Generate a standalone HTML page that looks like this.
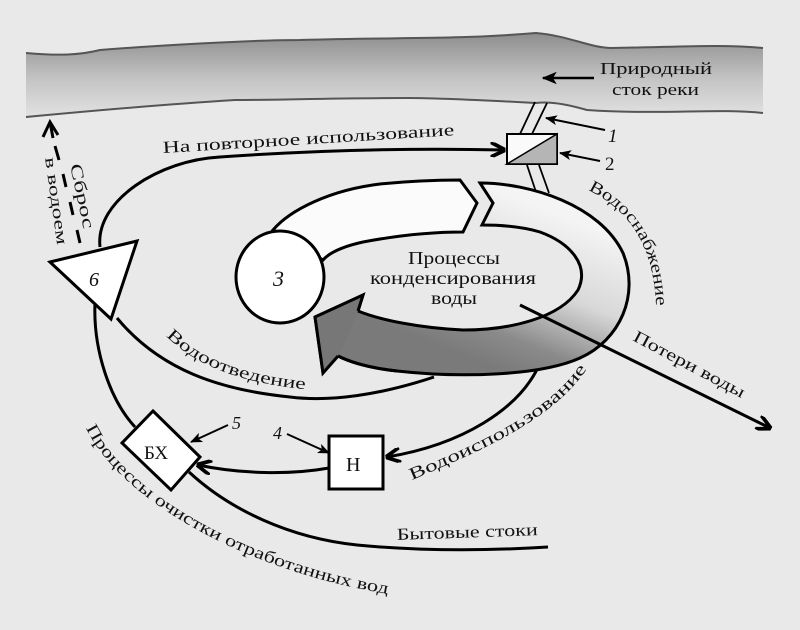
<!DOCTYPE html>
<html><head><meta charset="utf-8"><style>
html,body{margin:0;padding:0;background:#e9e9e9}
svg{display:block}
text{font-family:"Liberation Serif",serif;fill:#111}
</style></head><body>
<svg width="800" height="630" viewBox="0 0 800 630" xmlns="http://www.w3.org/2000/svg">
<defs>
<linearGradient id="riv" x1="0" y1="0" x2="0" y2="1">
<stop offset="0" stop-color="#8d8d8d"/><stop offset="0.55" stop-color="#c4c4c4"/><stop offset="1" stop-color="#e2e2e2"/>
</linearGradient>
<linearGradient id="band" x1="560" y1="215" x2="500" y2="370" gradientUnits="userSpaceOnUse">
<stop offset="0" stop-color="#f4f4f4"/><stop offset="0.45" stop-color="#d8d8d8"/><stop offset="0.8" stop-color="#8a8a8a"/><stop offset="1" stop-color="#7a7a7a"/>
</linearGradient>
<marker id="ah" viewBox="0 0 10 10" refX="9" refY="5" markerWidth="5" markerHeight="5" orient="auto"><path d="M0,0 L10,5 L0,10" fill="none" stroke="#000" stroke-width="2.5"/></marker>
<marker id="fa" viewBox="0 0 12 10" refX="11" refY="5" markerWidth="6" markerHeight="5" orient="auto"><path d="M0,0 L12,5 L0,10 L3,5 z" fill="#000"/></marker>
<path id="p_snab" d="M588,190 C630,210 660,250 656,330"/>
<path id="p_isp" d="M412,480 C470,455 560,420 592,360"/>
<path id="p_otv" d="M166,336 C200,370 250,384 312,390"/>
<path id="p_och" d="M86,428 C120,500 250,575 402,596"/>
</defs>
<rect width="800" height="630" fill="#e9e9e9"/>
<!-- river -->
<path d="M26,53 C60,56 80,55 100,50 C150,46 250,40 300,40 C400,37 450,40 536,33 C570,36 590,48 612,48 C680,47 720,44 763,48 L763,113 C720,108 660,115 587,110 C570,105 550,101 536,103 C480,100 430,98 408,98 C330,98 280,100 235,100 C170,104 100,110 26,117 Z" fill="url(#riv)"/>
<path d="M26,53 C60,56 80,55 100,50 C150,46 250,40 300,40 C400,37 450,40 536,33 C570,36 590,48 612,48 C680,47 720,44 763,48" fill="none" stroke="#555" stroke-width="2"/>
<path d="M26,117 C100,110 170,104 235,100 C280,100 330,98 408,98 C430,98 480,100 536,103 C550,101 570,105 587,110 C660,115 720,108 763,113" fill="none" stroke="#555" stroke-width="2"/>
<text x="600" y="74" font-size="17" textLength="112" lengthAdjust="spacingAndGlyphs">Природный</text>
<text x="612" y="95" font-size="17" textLength="87" lengthAdjust="spacingAndGlyphs">сток реки</text>
<line x1="594" y1="78" x2="543" y2="78" stroke="#000" stroke-width="2.5" marker-end="url(#fa)"/>
<!-- pipe -->
<path d="M535,102 L520,134 M547,103 L532,134 M527,165 L536,192 M539,165 L549,193" stroke="#000" stroke-width="1.8" fill="none"/>
<rect x="507" y="134" width="50" height="30" fill="#fafafa" stroke="#000" stroke-width="2"/>
<path d="M507,164 L557,134 L557,164 Z" fill="#b5b5b5" stroke="#000" stroke-width="1.5"/>
<line x1="605" y1="130" x2="546" y2="118" stroke="#000" stroke-width="2" marker-end="url(#fa)"/>
<line x1="600" y1="161" x2="560" y2="153" stroke="#000" stroke-width="2" marker-end="url(#fa)"/>
<text x="608" y="142" font-size="19" font-style="italic">1</text>
<text x="605" y="170" font-size="19">2</text>
<!-- reuse -->
<path d="M100,247 C95,200 160,160 220,157 C320,150 420,148 504,150" fill="none" stroke="#000" stroke-width="3" marker-end="url(#ah)"/>
<text x="163" y="153" font-size="17" transform="rotate(-3.5 163 153)" textLength="292" lengthAdjust="spacingAndGlyphs">На повторное использование</text>
<!-- dashed discharge -->
<path d="M80,243 L77,230 M73,215 L70,202 M66,187 L63,174 M59,160 L55,146" stroke="#000" stroke-width="3"/>
<path d="M43,137 L50,122 L58,135 M50,122 L53,138" fill="none" stroke="#000" stroke-width="3"/>
<text x="70" y="165" font-size="17" transform="rotate(78 70 165)" textLength="66" lengthAdjust="spacingAndGlyphs">Сброс</text>
<text x="45" y="158" font-size="16" transform="rotate(82 45 158)" textLength="88" lengthAdjust="spacingAndGlyphs">в водоем</text>
<!-- outer lines -->
<path d="M434,377 C380,395 330,402 290,397 C220,390 160,370 117,318" fill="none" stroke="#000" stroke-width="3"/>
<path d="M135,427 C110,400 93,350 95,303" fill="none" stroke="#000" stroke-width="3"/>
<path d="M189,472 C230,510 290,538 357,545 C430,552 500,550 548,547" fill="none" stroke="#000" stroke-width="3"/>
<path d="M540,363 C520,410 460,445 387,457" fill="none" stroke="#000" stroke-width="3" marker-end="url(#ah)"/>
<path d="M329,468 C290,475 240,474 198,465" fill="none" stroke="#000" stroke-width="3" marker-end="url(#ah)"/>
<!-- triangle 6 -->
<path d="M50,262 L137,241 L111,319 Z" fill="#fff" stroke="#000" stroke-width="3" stroke-linejoin="miter"/>
<text x="89" y="286" font-size="20" font-style="italic">6</text>
<!-- upper-left band -->
<path d="M273,230 C290,210 330,190 380,184 C410,181 440,180 460,180 L477,203 L463,232 C430,232 400,235 363,242 C345,246 330,252 323,260 Z" fill="#fbfbfb" stroke="#000" stroke-width="3" stroke-linejoin="miter"/>
<!-- right band + arrow -->
<path d="M480,183 C530,183 600,205 623,253 C640,295 620,340 580,358 C540,376 460,378 397,371 C370,368 350,362 338,356 L323,373 L315,317 L363,295 L358,311 C380,320 420,328 463,330 C510,330 560,318 578,290 C590,265 570,243 540,232 C520,226 500,225 482,225 L493,203 Z" fill="url(#band)" stroke="#000" stroke-width="3" stroke-linejoin="miter"/>
<path d="M338,356 L323,373 L315,317 L363,295 L358,311 C350,330 345,345 338,356 Z" fill="#777" stroke="none"/>
<path d="M338,356 L323,373 L315,317 L363,295 L358,311" fill="none" stroke="#000" stroke-width="3" stroke-linejoin="miter"/>
<path d="M397,371 C370,368 350,362 338,356" fill="none" stroke="#000" stroke-width="3"/>
<!-- circle 3 -->
<ellipse cx="280" cy="277" rx="44" ry="46" fill="#fff" stroke="#000" stroke-width="3"/>
<text x="273" y="286" font-size="22" font-style="italic">3</text>
<text x="408" y="264" font-size="18" textLength="92" lengthAdjust="spacingAndGlyphs">Процессы</text>
<text x="370" y="284" font-size="18" textLength="166" lengthAdjust="spacingAndGlyphs">конденсирования</text>
<text x="431" y="304" font-size="18" textLength="46" lengthAdjust="spacingAndGlyphs">воды</text>
<!-- losses -->
<line x1="520" y1="305" x2="770" y2="428" stroke="#000" stroke-width="3" marker-end="url(#ah)"/>
<text x="632" y="340" font-size="17" transform="rotate(28 632 340)" textLength="124" lengthAdjust="spacingAndGlyphs">Потери воды</text>
<!-- curved labels -->
<text font-size="17"><textPath href="#p_snab" textLength="142" lengthAdjust="spacingAndGlyphs">Водоснабжение</textPath></text>
<text font-size="17"><textPath href="#p_isp" textLength="210" lengthAdjust="spacingAndGlyphs">Водоиспользование</textPath></text>
<text font-size="17"><textPath href="#p_otv" textLength="152" lengthAdjust="spacingAndGlyphs">Водоотведение</textPath></text>
<text font-size="17"><textPath href="#p_och" textLength="355" lengthAdjust="spacingAndGlyphs">Процессы очистки отработанных вод</textPath></text>
<text x="397" y="540" font-size="17" transform="rotate(-2 397 540)" textLength="141" lengthAdjust="spacingAndGlyphs">Бытовые стоки</text>
<!-- БХ diamond -->
<path d="M153,411 L200,457 L171,490 L122,443 Z" fill="#fff" stroke="#000" stroke-width="3"/>
<text x="144" y="459" font-size="19">БХ</text>
<!-- H box -->
<rect x="329" y="436" width="54" height="53" fill="#fff" stroke="#000" stroke-width="3"/>
<text x="346" y="471" font-size="20">Н</text>
<line x1="287" y1="434" x2="329" y2="453" stroke="#000" stroke-width="2" marker-end="url(#fa)"/>
<line x1="228" y1="425" x2="191" y2="442" stroke="#000" stroke-width="2" marker-end="url(#fa)"/>
<text x="273" y="439" font-size="18" font-style="italic">4</text>
<text x="232" y="429" font-size="18" font-style="italic">5</text>
</svg>
</body></html>
